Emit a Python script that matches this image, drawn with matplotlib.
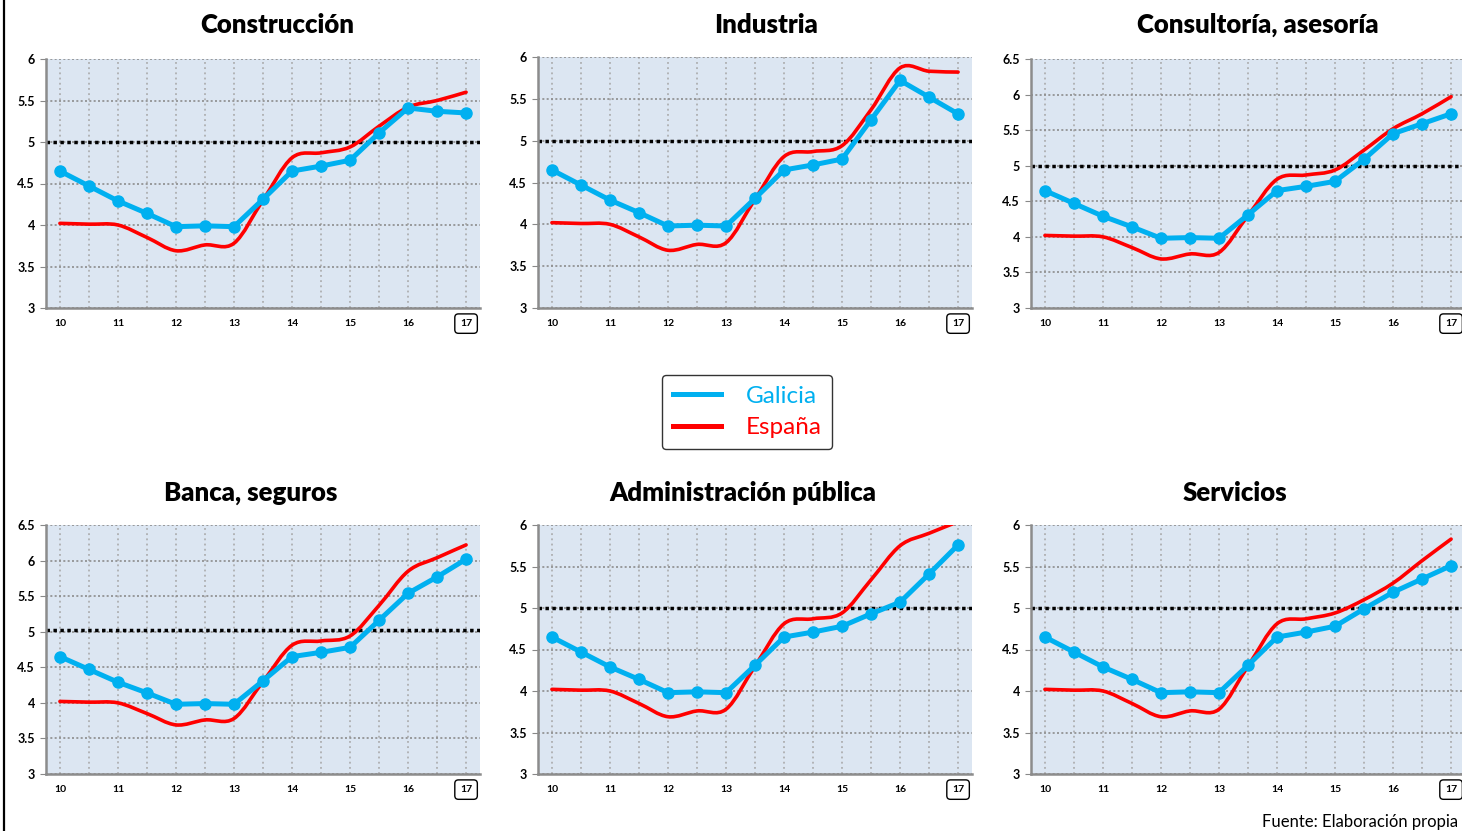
import matplotlib.pyplot as plt
import numpy as np
from matplotlib.path import Path
from matplotlib.patches import PathPatch
from matplotlib.lines import Line2D

plt.rcParams['font.family'] = ['Lato', 'DejaVu Sans']

# half-year points from 2010 to 2017
years = [10, 10.5, 11, 11.5, 12, 12.5, 13, 13.5, 14, 14.5, 15, 15.5, 16, 16.5, 17]
tick_years = [10, 11, 12, 13, 14, 15, 16, 17]

titles = ['Construcción', 'Industria', 'Consultoría, asesoría',
          'Banca, seguros', 'Administración pública', 'Servicios']

base_galicia = [4.65, 4.47, 4.29, 4.14, 3.98, 3.99, 3.98, 4.31, 4.65, 4.71, 4.78]
base_espana = [4.02, 4.01, 4.00, 3.85, 3.69, 3.76, 3.78, 4.30, 4.81, 4.87, 4.94]

galicia = [
    base_galicia + [5.11, 5.41, 5.37, 5.35],
    base_galicia + [5.25, 5.72, 5.52, 5.32],
    base_galicia + [5.09, 5.45, 5.59, 5.73],
    base_galicia + [5.16, 5.54, 5.77, 6.02],
    base_galicia + [4.93, 5.07, 5.41, 5.76],
    base_galicia + [4.99, 5.19, 5.35, 5.51],
]
espana = [
    base_espana + [5.19, 5.42, 5.50, 5.60],
    base_espana + [5.37, 5.87, 5.83, 5.82],
    base_espana + [5.22, 5.52, 5.73, 5.97],
    base_espana + [5.37, 5.85, 6.04, 6.22],
    base_espana + [5.34, 5.75, 5.90, 6.04],
    base_espana + [5.10, 5.30, 5.57, 5.83],
]
ymax = [6, 6, 6.5, 6.5, 6, 6]
ref_level = [5, 5, 5, 5.03, 5, 5]

GAL = '#00B0F0'
ESP = '#FF0000'

W, H = 1462, 831
fig = plt.figure(figsize=(W / 100, H / 100), dpi=100)

# axes boxes in pixels: left, top, right, bottom
boxes = [(46, 59, 480, 308), (538, 57, 972, 308), (1031, 59, 1465, 308),
         (46, 525, 480, 774), (538, 525, 972, 774), (1031, 525, 1465, 774)]
title_pos = [(277, 25), (766, 25), (1258, 25), (251, 493), (743, 493), (1235, 493)]


def smooth_path(x, y):
    # Excel-like smoothed line: cubic bezier through the points
    pts = np.column_stack([x, y])
    n = len(pts)
    verts = [pts[0]]
    codes = [Path.MOVETO]
    for i in range(n - 1):
        p0 = pts[max(i - 1, 0)]
        p1 = pts[i]
        p2 = pts[i + 1]
        p3 = pts[min(i + 2, n - 1)]
        c1 = p1 + (p2 - p0) / 6.0
        c2 = p2 - (p3 - p1) / 6.0
        verts += [c1, c2, p2]
        codes += [Path.CURVE4] * 3
    return Path(verts, codes)


axes = []
for i in range(6):
    l, t, r, b = boxes[i]
    ax = fig.add_axes([l / W, 1 - b / H, (r - l) / W, (b - t) / H])
    axes.append(ax)
    ax.set_facecolor('#DCE6F2')
    ax.set_xlim(9.76, 17.24)
    ax.set_ylim(3, ymax[i])
    yt = np.arange(3, ymax[i] + 0.01, 0.5)
    ax.set_yticks(yt)
    ax.set_yticklabels(['{:g}'.format(v) for v in yt], fontsize=9, fontweight='bold')
    ax.set_xticks(tick_years)
    ax.set_xticklabels([str(v) for v in tick_years], fontsize=7.5, fontweight='bold')
    ax.set_xticks(years, minor=True)
    ax.tick_params(axis='x', which='both', length=0, pad=8)
    ax.tick_params(axis='y', length=4, color='#888888', pad=4)
    ax.grid(True, which='both', axis='x', color='#A6A6A6', linestyle=(0, (1.2, 2.2)), linewidth=1.1)
    ax.grid(True, which='major', axis='y', color='#8C8C8C', linestyle=(0, (1.2, 1.4)), linewidth=1.2)
    for s in ['top', 'right']:
        ax.spines[s].set_visible(False)
    for s in ['left', 'bottom']:
        ax.spines[s].set_color('#8C8C8C')
        ax.spines[s].set_linewidth(1.8)
    ax.set_axisbelow(True)

    ax.axhline(ref_level[i], color='black', linestyle=(0, (1, 1)), linewidth=2.5, zorder=2)

    patch = PathPatch(smooth_path(years, espana[i]), facecolor='none', edgecolor=ESP,
                      linewidth=2.6, zorder=3, capstyle='round')
    ax.add_patch(patch)
    ax.plot(years, galicia[i], color=GAL, linewidth=3.6, marker='o', markersize=8,
            zorder=4, solid_capstyle='round')

    last = ax.get_xticklabels()[-1]
    last.set_bbox(dict(boxstyle='round,pad=0.5,rounding_size=0.35', facecolor='white',
                       edgecolor='black', linewidth=1.0))
    last.set_text('  17  ')

    tx, ty = title_pos[i]
    fig.text(tx / W, 1 - ty / H, titles[i], fontsize=18.5, fontweight='heavy',
             ha='center', va='center')

handles = [Line2D([], [], color=GAL, linewidth=3.6),
           Line2D([], [], color=ESP, linewidth=3.6)]
leg = fig.legend(handles, ['Galicia', 'España'], loc='center',
                 bbox_to_anchor=(747 / W, 1 - 412 / H), fontsize=17.5, frameon=True,
                 fancybox=True, edgecolor='black', handlelength=2.0, handletextpad=1.0,
                 borderpad=0.45, labelspacing=0.45, borderaxespad=0)
leg.get_frame().set_linewidth(1.0)
leg.get_texts()[0].set_color(GAL)
leg.get_texts()[1].set_color(ESP)

fig.text(1262 / W, 1 - 822 / H, 'Fuente: Elaboración propia', fontsize=12,
         ha='left', va='center')

fig.add_artist(Line2D([4 / W, 4 / W], [0, 1], color='black', linewidth=1.6,
                      transform=fig.transFigure))

fig.savefig('out.png', dpi=100)
